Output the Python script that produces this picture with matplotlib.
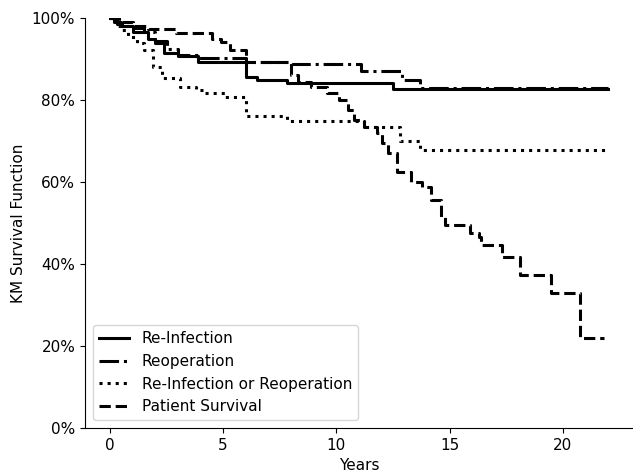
import matplotlib
matplotlib.use("Agg")
import matplotlib.pyplot as plt
from matplotlib.ticker import PercentFormatter

plt.rcParams["font.size"] = 11

# Kaplan-Meier step curves (years, survival %)
reinf_t = [0, 0.2, 0.5, 1.0, 1.7, 2.0, 2.4, 3.0, 3.9, 6.0, 6.5, 7.8, 12.5, 22.0]
reinf_s = [100, 99, 98, 96.6, 95, 93.9, 91.5, 90.7, 89.3, 85.6, 84.9, 84.1, 82.7, 82.7]

reop_t = [0, 0.3, 0.8, 1.5, 2.0, 2.5, 3.0, 3.9, 6.0, 8.0, 11.1, 12.9, 13.7, 22.0]
reop_s = [100, 98.5, 97.5, 96.5, 94.5, 92.5, 91, 90.2, 89.3, 88.8, 87.1, 84.9, 82.9, 82.9]

either_t = [0, 0.3, 0.5, 0.8, 1.2, 1.5, 1.9, 2.3, 3.1, 3.8, 4.2, 5.1, 6.0, 7.8,
            11.2, 12.8, 13.7, 22.0]
either_s = [100, 98, 97, 95.4, 94, 92.2, 88, 85.4, 83.2, 82.4, 81.7, 80.7, 76.0, 75.0,
            73.4, 70.0, 67.8, 67.8]

pat_t = [0, 0.4, 1.0, 1.7, 2.9, 4.5, 4.9, 5.3, 6.0, 8.0, 8.3, 8.9, 9.6, 10.1, 10.5,
         10.8, 11.2, 11.8, 12.0, 12.3, 12.7, 13.3, 13.8, 14.2, 14.6, 14.8, 15.9, 16.3,
         16.4, 17.3, 18.1, 19.5, 20.75, 21.8]
pat_s = [100, 99, 98, 97.3, 96.3, 95.0, 94.1, 92.2, 89.3, 86.0, 84.4, 83.2, 81.7, 80.0,
         77.6, 75.1, 73.4, 72.0, 69.5, 67.1, 62.4, 60.0, 58.8, 55.6, 51.5, 49.5, 47.6,
         46.6, 44.6, 41.7, 37.3, 32.9, 22.0, 22.0]

fig = plt.figure(figsize=(6.33, 4.72), dpi=100)
ax = fig.add_axes([85 / 633, 44 / 472, 548 / 633, 410 / 472])

ax.step(reinf_t, reinf_s, where="post", color="black", lw=2.2, ls="-", label="Re-Infection")
ax.step(reop_t, reop_s, where="post", color="black", lw=2.2, ls="-.", label="Reoperation")
ax.step(either_t, either_s, where="post", color="black", lw=2.2, ls=":",
        label="Re-Infection or Reoperation")
ax.step(pat_t, pat_s, where="post", color="black", lw=2.2, ls="--", label="Patient Survival")

ax.set_ylim(0, 100)
ax.set_xlim(-1.1, 23.1)
ax.set_xticks([0, 5, 10, 15, 20])
ax.yaxis.set_major_formatter(PercentFormatter(100, decimals=0))
ax.spines["top"].set_visible(False)
ax.spines["right"].set_visible(False)
ax.set_xlabel("Years")
ax.set_ylabel("KM Survival Function")
ax.legend(loc="lower left")

fig.savefig("out.png", dpi=100)
